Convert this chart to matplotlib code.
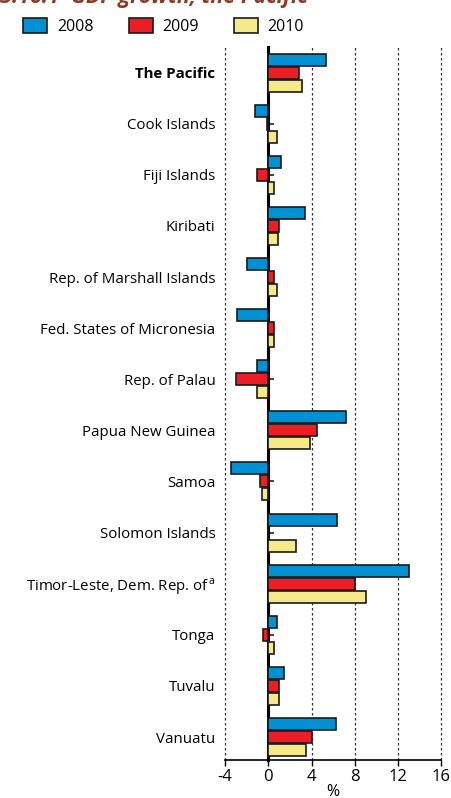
import numpy as np
import matplotlib
matplotlib.use("Agg")
import matplotlib.pyplot as plt

# GDP growth, the Pacific (%)
countries = ["The Pacific", "Cook Islands", "Fiji Islands", "Kiribati",
             "Rep. of Marshall Islands", "Fed. States of Micronesia",
             "Rep. of Palau", "Papua New Guinea", "Samoa", "Solomon Islands",
             "Timor-Leste, Dem. Rep. of$^{\\,\\mathrm{a}}$", "Tonga", "Tuvalu", "Vanuatu"]
g2008 = [5.3, -1.2, 1.2, 3.4, -2.0, -2.9, -1.0, 7.2, -3.4, 6.4, 13.0, 0.8, 1.5, 6.3]
g2009 = [2.8, -0.1, -1.0, 1.0, 0.5, 0.5, -3.0, 4.5, -0.8, 0.0, 8.0, -0.5, 1.0, 4.0]
g2010 = [3.1, 0.8, 0.5, 0.9, 0.8, 0.5, -1.0, 3.9, -0.6, 2.6, 9.0, 0.5, 1.0, 3.5]
years = ["2008", "2009", "2010"]
colors = ["#0090D4", "#EE1C25", "#F6E98A"]
xticks = [-4, 0, 4, 8, 12, 16]

plt.rcParams['font.family'] = ['Open Sans', 'DejaVu Sans']
plt.rcParams['mathtext.fontset'] = 'custom'
plt.rcParams['mathtext.rm'] = 'Open Sans'

fig = plt.figure(figsize=(4.52, 7.98), dpi=100)
ax = fig.add_axes([0.4978, 0.0476, 0.4785, 0.8935])

y = np.arange(len(countries))
h = 0.234
step = 0.254
for i, (vals, c, lab) in enumerate(zip([g2008, g2009, g2010], colors, years)):
    ax.barh(y + (i - 1) * step, vals, height=h, color=c, edgecolor="#1a1a1a",
            linewidth=1.2, label=lab, zorder=3)

ax.set_xlim(-4, 16)
ax.set_ylim(len(countries) - 0.55, -0.5)
ax.set_xticks(xticks)
ax.set_xticklabels([str(t) for t in xticks], fontsize=12)
ax.set_yticks(y)
ax.set_yticklabels(countries, fontsize=10.8)
ax.get_yticklabels()[0].set_fontweight("bold")
ax.tick_params(axis="y", length=0, pad=7)
ax.tick_params(axis="x", length=4, width=1, direction="out", pad=2.5)
for s in ["left", "top", "right"]:
    ax.spines[s].set_visible(False)
ax.spines["bottom"].set_linewidth(1.2)

for t in [-4, 4, 8, 12, 16]:
    ax.axvline(t, color="#333333", linestyle=(0, (2.0, 2.0)), linewidth=0.9,
               zorder=1, clip_on=False)

# zero line with small inward ticks
sec = ax.secondary_yaxis(0.2)
sec.set_yticks(y)
sec.set_yticklabels([])
sec.tick_params(axis="y", direction="in", length=4, width=1.2, color="#222222")
sec.tick_params(axis="y", which="minor", length=0)
sec.spines["left"].set_linewidth(2.2)
for s in ["right", "top", "bottom"]:
    if s in sec.spines:
        sec.spines[s].set_visible(False)

ax.set_xlabel("%", fontsize=11.5, labelpad=-1)

leg = fig.legend(loc="upper left", bbox_to_anchor=(0.02, 0.995), ncol=3,
                 frameon=False, fontsize=11.5, handlelength=1.5, handleheight=1.0,
                 columnspacing=2.2, handletextpad=0.6)

fig.text(0.0, 1 - 3.5 / 798, "3.16.1  GDP growth, the Pacific", color="#8B3A26",
         fontsize=15.5, fontweight="bold", style="italic", va="baseline", ha="left")

fig.savefig("out.png", dpi=100)
